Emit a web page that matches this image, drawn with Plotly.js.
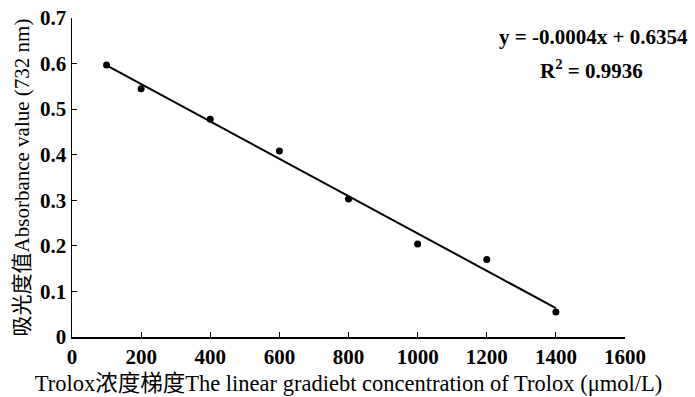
<!DOCTYPE html>
<html><head><meta charset="utf-8">
<script src="https://cdn.plot.ly/plotly-3.0.1.min.js"></script>
<style>html,body{margin:0;padding:0;background:#fff}#c{width:695px;height:397px}</style>
</head><body><div id="c"></div>
<script>
const concentration = [100, 200, 400, 600, 800, 1000, 1200, 1400];
const absorbance = [0.597, 0.545, 0.478, 0.408, 0.303, 0.204, 0.170, 0.055];
const xTicks = [0, 200, 400, 600, 800, 1000, 1200, 1400, 1600];
const yTicks = [0, 0.1, 0.2, 0.3, 0.4, 0.5, 0.6, 0.7];
const yTickLabels = ['0', '0.1', '0.2', '0.3', '0.4', '0.5', '0.6', '0.7'];
const equationText = 'y = -0.0004x + 0.6354';
const r2Text = 'R<sup>2</sup> = 0.9936';

// least squares fit computed from data
const n = concentration.length;
const mx = concentration.reduce((a,b)=>a+b,0)/n;
const my = absorbance.reduce((a,b)=>a+b,0)/n;
let sxy=0, sxx=0;
for (let i=0;i<n;i++){sxy+=(concentration[i]-mx)*(absorbance[i]-my);sxx+=(concentration[i]-mx)**2;}
const slope = sxy/sxx, intercept = my - slope*mx;
const fitX = [concentration[0], concentration[n-1]];
const fitY = fitX.map(x=>slope*x+intercept);

const serif = 'Liberation Serif, Times New Roman, Noto Sans CJK SC, serif';
const data = [
  {x: fitX, y: fitY, mode:'lines', line:{color:'#000', width:2}, hoverinfo:'skip'},
  {x: concentration, y: absorbance, mode:'markers', marker:{color:'#000', size:7}}
];
const layout = {
  width:695, height:397, showlegend:false,
  margin:{l:72, r:70, t:18, b:60},
  paper_bgcolor:'#fff', plot_bgcolor:'#fff',
  font:{family:serif, color:'#000'},
  xaxis:{range:[0,1600], tickvals:xTicks, ticks:'inside', ticklen:5, tickwidth:1.2, tickcolor:'#000',
    showline:true, linecolor:'#000', linewidth:1.5, showgrid:false, zeroline:false, automargin:false,
    tickfont:{family:serif, size:21, weight:'bold', color:'#000'},
    title:{text:'Trolox浓度梯度The linear gradiebt concentration of Trolox (μmol/L)', font:{family:serif, size:22.5, color:'#000'}, standoff:7}},
  yaxis:{range:[0,0.7], tickvals:yTicks, ticktext:yTickLabels, ticks:'inside', ticklen:5, tickwidth:1.2, tickcolor:'#000',
    showline:true, linecolor:'#000', linewidth:1.5, showgrid:false, zeroline:false, automargin:false,
    tickfont:{family:serif, size:21, weight:'bold', color:'#000'},
    title:{text:'吸光度值Absorbance value (732 nm)', font:{family:serif, size:21, color:'#000'}, standoff:4}},
  annotations:[
    {xref:'paper', yref:'paper', x:1.1175, y:0.94, xanchor:'right', yanchor:'middle', showarrow:false,
     text:equationText, font:{family:serif, size:21, weight:'bold', color:'#000'}},
    {xref:'paper', yref:'paper', x:0.94, y:0.837, xanchor:'center', yanchor:'middle', showarrow:false,
     text:r2Text, font:{family:serif, size:21, weight:'bold', color:'#000'}}
  ]
};
Plotly.newPlot('c', data, layout, {displayModeBar:false, staticPlot:true});
</script></body></html>
